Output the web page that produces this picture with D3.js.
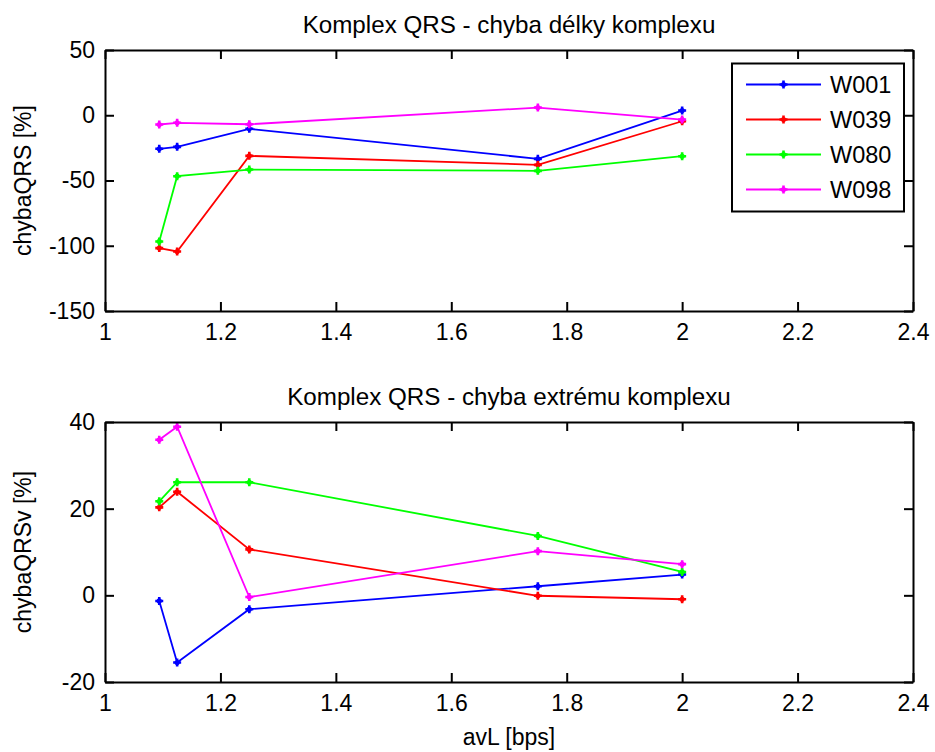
<!DOCTYPE html>
<html>
<head>
<meta charset="utf-8">
<script src="https://cdn.jsdelivr.net/npm/d3@7"></script>
<style>
  html, body { margin: 0; padding: 0; background: #fff; }
  svg { display: block; }
  text { font-family: "Liberation Sans", Arial, sans-serif; fill: #000; }
</style>
</head>
<body>
<svg id="chart" width="935" height="752"></svg>
<script>
// ---- data ----
const xValues = [1.094, 1.125, 1.25, 1.75, 2.0];
const seriesNames = ["W001", "W039", "W080", "W098"];
const seriesColors = ["#0000ff", "#ff0000", "#00ff00", "#ff00ff"];

// top panel: chyba délky komplexu [%]
const delkaW001 = [-25.7, -24.2, -10.4, -33.4, 3.6];
const delkaW039 = [-101.8, -104.4, -31.1, -38.0, -4.6];
const delkaW080 = [-96.7, -46.7, -41.6, -42.6, -31.4];
const delkaW098 = [-7.1, -5.8, -6.9, 5.9, -3.3];

// bottom panel: chyba extrému komplexu [%]
const extremW001 = [-1.3, -15.5, -3.2, 2.1, 4.8];
const extremW039 = [20.3, 23.9, 10.6, -0.1, -0.9];
const extremW080 = [21.7, 26.1, 26.1, 13.7, 5.4];
const extremW098 = [35.9, 38.9, -0.4, 10.2, 7.2];

const xTicks = [1, 1.2, 1.4, 1.6, 1.8, 2, 2.2, 2.4];
const xTickLabels = ["1", "1.2", "1.4", "1.6", "1.8", "2", "2.2", "2.4"];
const yTicksTop = [-150, -100, -50, 0, 50];
const yTicksBottom = [-20, 0, 20, 40];

const titleTop = "Komplex QRS - chyba délky komplexu";
const titleBottom = "Komplex QRS - chyba extrému komplexu";
const yLabelTop = "chybaQRS [%]";
const yLabelBottom = "chybaQRSv [%]";
const xLabel = "avL [bps]";

// ---- drawing ----
const svg = d3.select("#chart");
const FONT = 23;
const TITLE_FONT = 24.2;
const left = 105, right = 913;
const x = d3.scaleLinear().domain([1, 2.4]).range([left, right]);

function drawPanel(opts) {
  const y = d3.scaleLinear().domain(opts.domain).range([opts.bottom, opts.top]);
  const g = svg.append("g");

  // data lines
  const line = d3.line().x((d, i) => x(xValues[i])).y(d => y(d));
  opts.series.forEach((vals, si) => {
    g.append("path").datum(vals)
      .attr("d", line)
      .attr("fill", "none")
      .attr("stroke", seriesColors[si])
      .attr("stroke-width", 1.8);
    g.selectAll(null).data(vals).enter().append("path")
      .attr("transform", (d, i) => `translate(${x(xValues[i])},${y(d)})`)
      .attr("d", "M-4,0H4M0,-4V4")
      .attr("stroke", seriesColors[si])
      .attr("stroke-width", 2.6)
      .attr("fill", "none");
    g.selectAll(null).data(vals).enter().append("circle")
      .attr("cx", (d, i) => x(xValues[i]))
      .attr("cy", d => y(d))
      .attr("r", 2.6)
      .attr("fill", seriesColors[si]);
  });

  // axes (MATLAB style box with inward ticks)
  const axB = d3.axisBottom(x).tickValues(xTicks).tickFormat((d, i) => xTickLabels[i]).tickSizeInner(-9).tickSizeOuter(0).tickPadding(13);
  const axT = d3.axisTop(x).tickValues(xTicks).tickFormat("").tickSizeInner(-9).tickSizeOuter(0);
  const axL = d3.axisLeft(y).tickValues(opts.ticks).tickFormat(d => String(d)).tickSizeInner(-9).tickSizeOuter(0).tickPadding(10);
  const axR = d3.axisRight(y).tickValues(opts.ticks).tickFormat("").tickSizeInner(-9).tickSizeOuter(0);

  const gb = g.append("g").attr("transform", `translate(0,${opts.bottom})`).call(axB);
  const gt = g.append("g").attr("transform", `translate(0,${opts.top})`).call(axT);
  const gl = g.append("g").attr("transform", `translate(${left},0)`).call(axL);
  const gr = g.append("g").attr("transform", `translate(${right},0)`).call(axR);
  [gb, gt, gl, gr].forEach(a => {
    a.select(".domain").attr("stroke", "#000").attr("stroke-width", 2);
    a.selectAll(".tick line").attr("stroke", "#000").attr("stroke-width", 2);
    a.selectAll("text").attr("font-size", FONT).attr("font-family", "Liberation Sans, Arial, sans-serif").attr("fill", "#000");
  });
  gb.selectAll(".tick text").attr("dy", "0.71em");

  // title
  svg.append("text")
    .attr("x", (left + right) / 2).attr("y", opts.top - 17)
    .attr("text-anchor", "middle").attr("font-size", TITLE_FONT)
    .text(opts.title);
  // y label
  svg.append("text")
    .attr("transform", `translate(31,${(opts.top + opts.bottom) / 2}) rotate(-90)`)
    .attr("text-anchor", "middle").attr("font-size", FONT)
    .text(opts.ylabel);
  return y;
}

drawPanel({
  top: 50, bottom: 311, domain: [-150, 50], ticks: yTicksTop,
  series: [delkaW001, delkaW039, delkaW080, delkaW098],
  title: titleTop, ylabel: yLabelTop
});
drawPanel({
  top: 422, bottom: 682, domain: [-20, 40], ticks: yTicksBottom,
  series: [extremW001, extremW039, extremW080, extremW098],
  title: titleBottom, ylabel: yLabelBottom
});

// x label
svg.append("text")
  .attr("x", (left + right) / 2).attr("y", 745)
  .attr("text-anchor", "middle").attr("font-size", FONT)
  .text(xLabel);

// legend
const lg = svg.append("g");
lg.append("rect").attr("x", 732).attr("y", 63.5).attr("width", 172).attr("height", 148)
  .attr("fill", "#fff").attr("stroke", "#000").attr("stroke-width", 2);
const legendRows = d3.scaleBand().domain(seriesNames).range([67, 207]);
seriesNames.forEach((name, i) => {
  const cy = legendRows(name) + legendRows.bandwidth() / 2;
  lg.append("line").attr("x1", 746).attr("x2", 821).attr("y1", cy).attr("y2", cy)
    .attr("stroke", seriesColors[i]).attr("stroke-width", 1.8);
  lg.append("path").attr("transform", `translate(783.5,${cy})`).attr("d", "M-4,0H4M0,-4V4")
    .attr("stroke", seriesColors[i]).attr("stroke-width", 2.6);
  lg.append("circle").attr("cx", 783.5).attr("cy", cy).attr("r", 2.6).attr("fill", seriesColors[i]);
  lg.append("text").attr("x", 830).attr("y", cy).attr("dy", "0.36em")
    .attr("font-size", FONT + 0.5).text(name);
});
</script>
</body>
</html>
